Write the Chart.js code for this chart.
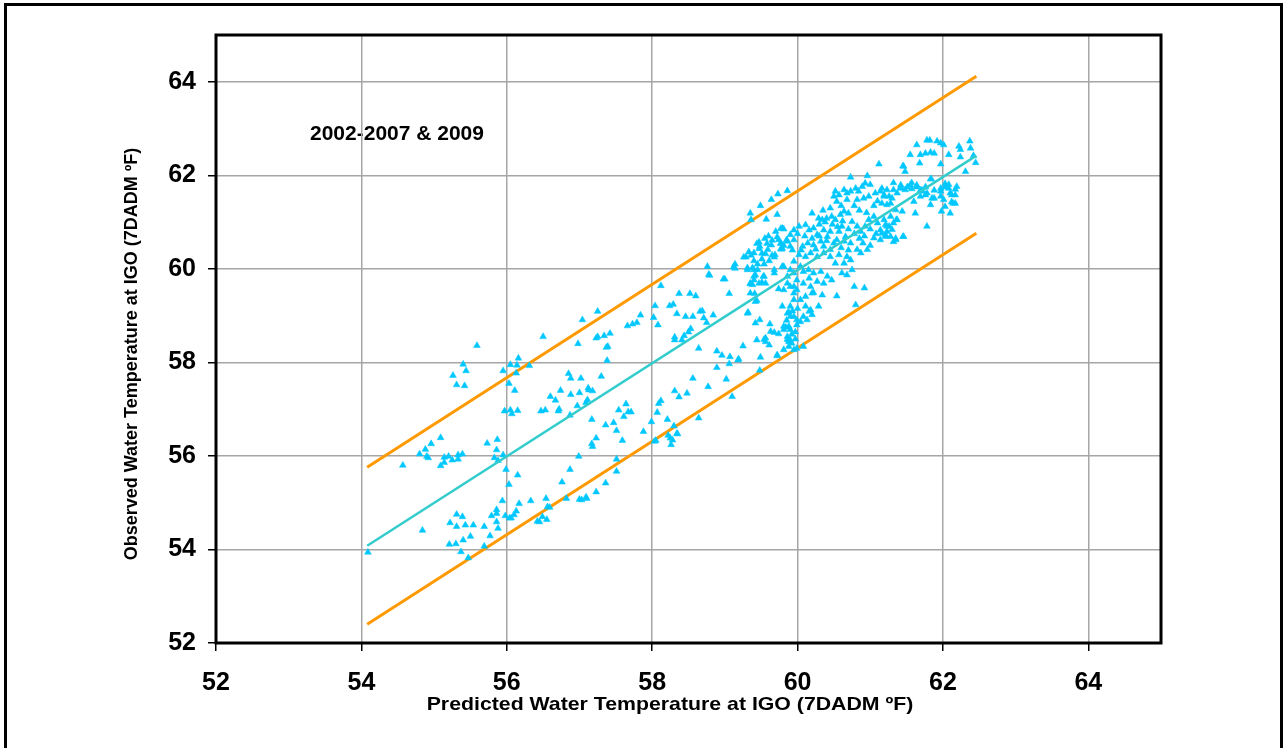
<!DOCTYPE html>
<html>
<head>
<meta charset="utf-8">
<script src="https://cdn.jsdelivr.net/npm/chart.js@4.4.1/dist/chart.umd.min.js"></script>
<style>
  html, body { margin: 0; padding: 0; background: #fff; }
  #wrap { width: 1284px; height: 748px; }
</style>
</head>
<body>
<div id="wrap"><canvas id="myChart"></canvas></div>
<script>
// axis ranges / ticks
const axisMin = 52;
const axisMax = 65;
const tickStep = 2;

// 1:1 fit line and +/- bands (x from .. to)
const lineX = [54.08, 62.46];
const centerY = [54.08, 62.42];
const upperY = [55.76, 64.12];
const lowerY = [52.40, 60.76];

// predicted vs observed 7DADM
const observedPoints = [
  [54.09,53.94],[54.57,55.80],[54.80,56.04],[54.88,56.14],[54.90,55.99],[54.92,55.96],[54.96,56.26],[55.09,56.39],
  [55.09,55.79],[55.14,55.97],[55.14,55.86],[55.20,55.99],[55.25,55.91],[55.33,56.02],[55.33,55.93],[55.39,56.04],
  [55.26,57.72],[55.31,57.52],[55.40,57.96],[55.44,57.82],[55.42,57.50],[55.59,58.36],[55.73,56.27],[55.87,56.35],
  [55.95,56.02],[55.86,56.13],[55.83,55.96],[55.88,55.90],[55.99,55.71],[56.15,55.59],[56.03,55.39],[55.95,57.82],
  [56.05,57.95],[56.16,58.09],[56.14,57.94],[56.13,57.77],[56.03,57.55],[56.11,57.40],[55.97,56.96],[56.05,56.98],
  [56.07,56.90],[56.15,56.97],
  [55.94,55.04],[55.86,54.85],[55.86,54.77],[55.79,54.72],[55.98,54.72],[56.04,54.67],[56.06,54.67],[56.10,54.74],
  [56.13,54.82],[55.86,54.59],[55.88,54.45],[55.69,54.49],[55.77,54.29],[55.69,54.07],[55.54,54.52],[55.43,54.52],
  [55.39,54.70],[55.31,54.75],[55.31,54.49],[55.22,54.57],[55.50,54.28],[55.40,54.20],[55.30,54.12],[55.21,54.11],
  [55.37,53.95],[55.47,53.82],[54.84,54.41],[56.17,54.98],[56.33,55.04],
  [56.31,57.93],[56.50,58.55],[56.98,58.40],[57.04,58.91],[57.23,58.52],[57.25,58.55],[56.85,57.76],[56.88,57.66],
  [57.02,57.66],[56.74,57.40],[56.60,57.27],[56.67,57.19],[56.72,57.00],[56.71,56.96],[56.47,56.96],[56.53,56.98],
  [56.88,57.31],[57.00,57.35],[57.13,57.41],[57.18,57.39],[57.11,57.20],[56.97,57.07],[56.87,56.87],[57.17,56.78],
  [57.23,56.38],[57.17,56.26],[56.99,55.99],[56.87,55.71],[56.76,55.44],[57.23,55.23],[57.09,55.12],[57.00,55.07],
  [56.82,55.09],[56.54,55.09],[56.56,54.91],[56.59,54.90],[56.42,54.60],[56.45,54.59],[56.49,54.70],[56.55,54.64],
  [57.25,59.09],[57.34,58.57],[57.42,58.62],[57.37,58.32],[57.39,58.34],[57.38,58.04],[57.30,57.70],[57.12,57.45],
  [57.09,57.14],
  [57.36,56.66],[57.47,56.71],[57.51,56.54],[57.59,56.33],[57.54,56.98],[57.64,57.11],[57.67,56.94],[57.71,56.94],
  [57.61,56.84],[57.88,56.52],[57.99,56.73],[58.07,56.93],[58.21,56.78],[58.30,56.64],[58.34,56.48],[58.25,56.38],
  [58.22,56.44],[58.26,56.24],[58.05,56.33],[58.09,57.12],[58.12,57.18],[58.64,56.81],[57.18,56.20],[58.03,56.31],
  [58.28,56.34],[58.35,56.47],[57.51,55.93],[57.51,55.67],[57.36,55.42],[57.10,55.09],[57.03,55.06],
  [57.66,58.78],[57.73,58.82],[57.79,58.85],[57.84,59.01],[58.02,58.96],[58.08,58.80],[58.04,59.21],[58.12,59.64],
  [58.24,59.21],[58.29,59.24],[58.37,59.47],[58.52,59.47],[58.60,59.42],[58.34,59.04],[58.46,58.98],[58.56,58.98],
  [58.66,59.09],[58.69,59.10],[58.71,58.95],[58.75,58.85],[58.84,59.01],[58.53,58.72],[58.50,58.65],[58.44,58.57],
  [58.31,58.54],[58.31,58.48],[58.41,58.48],[58.64,58.30],[59.06,59.47],[58.98,59.78],[58.76,60.05],[58.78,59.88],
  [58.89,58.24],[58.96,58.15],[59.07,58.12],[59.06,57.97],[59.19,58.07],[59.25,58.35],[58.89,57.89],[59.02,57.64],
  [58.56,57.66],[58.77,57.48],[58.31,57.39],[58.37,57.26],[58.48,57.34],[59.10,57.27],[59.48,57.83],[59.49,58.11],
  [59.44,58.48],[59.54,58.49],[59.56,58.44],[59.61,58.37],[59.72,58.14],[59.32,59.07],[59.48,58.91],[59.62,58.82],
  [59.44,59.32],[59.41,59.47],[59.35,59.68],[59.40,59.84],[59.51,59.71],[59.74,59.57],[59.79,59.20],[59.88,59.07],
  [59.63,58.66],[59.68,58.64],[59.74,58.61],[59.84,58.75],[59.90,58.70],[59.86,58.49],[59.89,58.44],[59.99,58.30],
  [60.08,58.34],[59.29,60.25],[59.40,60.34],[59.47,60.43],[59.51,60.33],[59.65,60.29],[59.68,59.98],[59.12,60.04],
  [59.14,60.10],[59.31,60.02],[59.40,59.98],[59.53,59.84],[58.79,59.86],[59.00,59.78],[59.14,60.01],[59.35,61.19],
  [59.36,61.05],[59.49,61.35],[59.57,61.06],[59.64,61.48],[59.73,61.60],[59.86,61.67],[59.72,61.16],[59.77,60.86],
  [59.81,60.85],[59.36,60.29],[59.44,60.54],[59.48,60.48],[59.40,60.17],[59.51,60.21],[59.59,60.41],[59.64,60.51],
  [59.69,60.30],[59.74,60.62],[59.78,60.42],[59.85,60.62],[59.90,60.73],[59.95,60.83],[59.45,59.98],[59.54,59.84],
  [59.68,59.91],[59.79,60.05],[59.86,59.84],[59.90,59.62],[59.95,59.48],[59.81,59.55],[59.35,59.69],[59.40,59.76],
  [59.26,60.25],[59.33,60.36],[59.47,60.57],[59.56,60.32],[59.58,60.54],[59.65,60.61],[59.72,60.68],[59.77,60.54],
  [59.77,60.43],[59.81,60.50],[59.68,60.25],[59.61,60.17],[59.54,60.10],[59.45,60.10],[59.38,60.02],[59.31,59.98],
  [59.42,59.87],[59.47,59.69],[59.38,59.66],[59.56,59.69],[59.35,59.48],[59.42,59.30],[59.31,59.05],[59.42,58.84],
  [59.56,58.52],[59.81,58.70],[59.88,58.77],[59.90,58.48],[59.92,58.41],[59.81,58.27],[59.88,58.34],[59.95,58.27],
  [59.18,58.05],[59.72,58.16],[59.95,60.16],[60.16,59.80],[60.20,59.48],[60.29,59.20],[59.99,59.55],[59.95,59.62],
  [59.90,58.98],[59.99,58.80],[60.08,58.98],[60.13,58.91],[60.18,59.12],
  [60.73,61.96],[60.96,61.99],[60.93,61.83],[60.89,61.76],[61.00,61.80],[60.80,61.72],[60.84,61.66],[60.73,61.66],
  [60.68,61.62],[60.64,61.69],[60.52,61.66],[60.57,61.58],[60.50,61.55],[60.54,61.44],[60.68,61.48],[60.82,61.48],
  [60.91,61.51],[60.98,61.55],[61.07,61.62],[61.14,61.66],[61.19,61.55],[61.42,61.79],[61.51,61.75],[61.57,61.84],
  [61.64,61.79],[61.69,61.68],[61.76,61.75],[61.83,61.92],[61.88,61.68],[61.97,61.72],[62.03,61.75],[62.08,61.72],
  [62.17,61.70],[61.78,61.62],[61.85,61.51],[61.97,61.55],[62.01,61.48],[62.10,61.62],[62.14,61.40],[62.03,61.33],
  [61.83,61.37],[61.44,61.23],[61.36,61.05],[61.98,61.23],[62.10,61.19],[61.78,60.91],[60.20,61.19],[60.29,61.08],
  [60.34,61.05],[60.40,61.08],[60.47,61.12],[60.52,61.05],[60.59,61.16],[60.64,61.23],[60.70,61.19],[59.79,60.87],
  [60.02,60.91],[60.11,60.94],[60.16,60.83],[60.22,60.87],[60.27,60.73],[60.36,60.83],[60.41,60.69],[60.45,60.80],
  [60.57,60.80],[60.61,60.91],[60.66,60.69],[60.75,61.01],[60.82,60.91],[60.87,60.80],[60.93,60.91],[60.98,61.05],
  [61.05,61.12],[61.10,60.98],[61.14,60.83],[61.21,60.94],[61.26,60.91],[61.32,60.98],[61.28,60.69],[61.35,60.62],
  [59.77,60.55],[59.86,60.59],[59.95,60.62],[60.07,60.48],[60.14,60.55],[60.22,60.51],[60.32,60.59],[60.36,60.48],
  [60.45,60.41],[60.50,60.55],[60.54,60.62],[60.64,60.59],[60.73,60.55],[60.82,60.41],[60.87,60.34],[60.96,60.41],
  [61.05,60.66],[61.14,60.62],[61.21,60.69],[61.23,60.80],[61.46,60.69],[59.79,60.44],[59.90,60.48],[60.02,60.30],
  [60.11,60.26],[60.18,60.34],[60.27,60.26],[60.36,60.34],[60.45,60.26],[60.57,60.30],[60.68,60.26],[60.73,60.19],
  [60.64,60.12],[60.52,60.12],[59.81,60.05],[59.90,59.98],[59.95,59.91],[60.04,60.05],[60.08,59.94],[60.15,59.98],
  [60.22,59.91],[60.32,59.94],[60.41,59.84],[60.47,59.76],[60.61,59.91],[60.68,59.87],[60.75,59.98],[60.36,59.69],
  [60.27,59.73],[60.18,59.62],[60.08,59.69],[59.99,59.76],[59.86,59.69],[60.78,59.62],[60.92,59.59],[60.54,59.42],
  [60.34,59.44],[60.22,59.49],[60.11,59.41],[60.04,59.34],[60.11,59.20],[60.16,59.09],[60.20,59.02],[59.95,59.34],
  [59.90,59.20],[59.86,59.05],[59.95,58.98],[59.99,58.91],[60.04,58.87],[59.86,58.55],[59.81,58.77],[59.88,58.45],
  [60.80,59.23],
  [60.30,60.95],[60.38,61.00],[60.48,60.95],[60.55,60.90],[60.62,61.02],[60.70,60.85],[60.78,60.75],[60.85,60.65],
  [60.92,60.70],[61.00,60.85],[61.08,60.75],[60.10,60.70],[60.20,60.65],[60.30,60.70],[60.00,60.75],[59.93,60.40],
  [60.05,60.40],[60.25,60.42],[60.40,60.60],[60.60,60.45],[60.70,60.40],[60.90,60.55],[61.00,60.50],[60.95,61.20],
  [60.85,61.25],[60.78,61.35],[61.05,61.35],[61.10,61.45],[60.60,61.35],[60.45,61.30],[60.35,61.25],[59.70,60.80],
  [59.60,60.70],[59.55,60.65],[59.92,58.60],[59.97,58.65],[59.85,58.90],[59.93,59.10],[60.00,59.15],[59.97,58.50],
  [61.12,62.24],[61.46,62.19],[61.48,62.08],[61.55,62.44],[61.64,62.65],[61.69,62.44],[61.76,62.47],[61.78,62.75],
  [61.82,62.75],[61.92,62.73],[61.97,62.69],[62.01,62.65],[61.83,62.49],[61.88,62.47],[61.68,62.26],[61.97,62.24],
  [62.08,62.44],[62.22,62.62],[62.24,62.55],[62.37,62.73],[62.38,62.58],[62.42,62.42],[62.45,62.27],[62.31,62.08],
  [62.24,62.39],[61.45,62.20],[61.84,61.92],[62.03,61.82],[62.08,61.80],[62.19,61.76],[62.17,61.40],[62.12,61.58],
  [61.97,61.66],[61.88,61.51],[61.76,61.58],[61.69,61.55],[61.71,61.66],[61.60,61.44],[61.62,61.19],[61.45,60.69],
  [61.35,60.65],[61.32,60.58],[61.32,61.84],[61.42,61.75],[61.55,61.79],[61.57,61.71],[61.64,61.75],[61.71,61.68],
  [61.16,61.72],[61.23,61.69],[61.32,61.69],[61.42,61.72],[61.48,61.69],[61.19,61.58],[61.26,61.55],[61.30,61.51],
  [61.37,61.62],[61.16,61.40],[61.23,61.37],[61.28,61.40],[61.35,61.26],[61.37,61.05],[61.28,61.12],[61.19,61.05],
  [61.23,60.91],[61.16,60.76],[61.21,60.73],[61.30,60.84],[62.12,61.43],[62.17,61.58]
];

const FONT = "'Liberation Sans', Arial, sans-serif";

const toXY = (xs, ys) => xs.map((x, i) => ({ x: x, y: ys[i] }));

// frame, plot border and the free text
const decorations = {
  id: 'decorations',
  beforeDraw(chart) {
    const ctx = chart.ctx;
    ctx.save();
    ctx.fillStyle = '#000';
    ctx.font = 'bold 21px ' + FONT;
    ctx.textAlign = 'left';
    ctx.textBaseline = 'middle';
    ctx.fillText('2002-2007 & 2009', 310, 134);
    ctx.restore();
  },
  afterDraw(chart) {
    const { ctx, chartArea: a } = chart;
    ctx.save();
    ctx.strokeStyle = '#000';
    ctx.lineWidth = 3;
    ctx.strokeRect(a.left, a.top, a.right - a.left, a.bottom - a.top);
    ctx.strokeRect(5.5, 4.5, 1276, 760);

    ctx.fillStyle = '#000';
    ctx.textAlign = 'center';
    ctx.textBaseline = 'middle';
    // x title (slightly wide in the original)
    ctx.save();
    ctx.translate(670, 705);
    ctx.scale(1.12, 1);
    ctx.font = 'bold 19px ' + FONT;
    ctx.fillText('Predicted Water Temperature at IGO (7DADM ºF)', 0, 0);
    ctx.restore();
    // y title
    ctx.save();
    ctx.translate(132, 354);
    ctx.rotate(-Math.PI / 2);
    ctx.font = 'bold 18px ' + FONT;
    ctx.fillText('Observed Water Temperature at IGO (7DADM ºF)', 0, 0);
    ctx.restore();
    ctx.restore();
  }
};

const axisCommon = {
  type: 'linear',
  min: axisMin,
  max: axisMax,
  border: { display: false },
  grid: { color: '#a6a6a6', lineWidth: 1.5, tickLength: 8, tickColor: '#000', tickWidth: 1.5 },
  ticks: {
    stepSize: tickStep,
    includeBounds: false,
    color: '#000',
    font: { family: FONT, size: 25, weight: 'bold' }
  }
};

new Chart(document.getElementById('myChart'), {
  type: 'scatter',
  data: {
    datasets: [
      {
        label: 'Observed',
        data: observedPoints.map(p => ({ x: p[0], y: p[1] })),
        pointStyle: 'triangle',
        pointRadius: 3.9,
        pointBackgroundColor: '#00C8FF',
        pointBorderColor: '#00C8FF',
        pointBorderWidth: 0.5,
        order: 1
      },
      {
        label: '1:1',
        type: 'line',
        data: toXY(lineX, centerY),
        borderColor: '#33CCCC',
        borderWidth: 2.5,
        pointRadius: 0,
        order: 0
      },
      {
        label: 'upper',
        type: 'line',
        data: toXY(lineX, upperY),
        borderColor: '#FF9900',
        borderWidth: 3,
        pointRadius: 0,
        order: 2
      },
      {
        label: 'lower',
        type: 'line',
        data: toXY(lineX, lowerY),
        borderColor: '#FF9900',
        borderWidth: 3,
        pointRadius: 0,
        order: 2
      }
    ]
  },
  options: {
    responsive: true,
    maintainAspectRatio: false,
    animation: false,
    layout: { padding: { top: 35, right: 123, bottom: 0, left: 0 } },
    plugins: { legend: { display: false }, tooltip: { enabled: false } },
    scales: {
      x: {
        ...axisCommon,
        ticks: { ...axisCommon.ticks, padding: 17 },
        afterFit: s => { s.height = 105; }
      },
      y: {
        ...axisCommon,
        ticks: { ...axisCommon.ticks, padding: 12 },
        afterFit: s => { s.width = 216; }
      }
    }
  },
  plugins: [decorations]
});
</script>
</body>
</html>
